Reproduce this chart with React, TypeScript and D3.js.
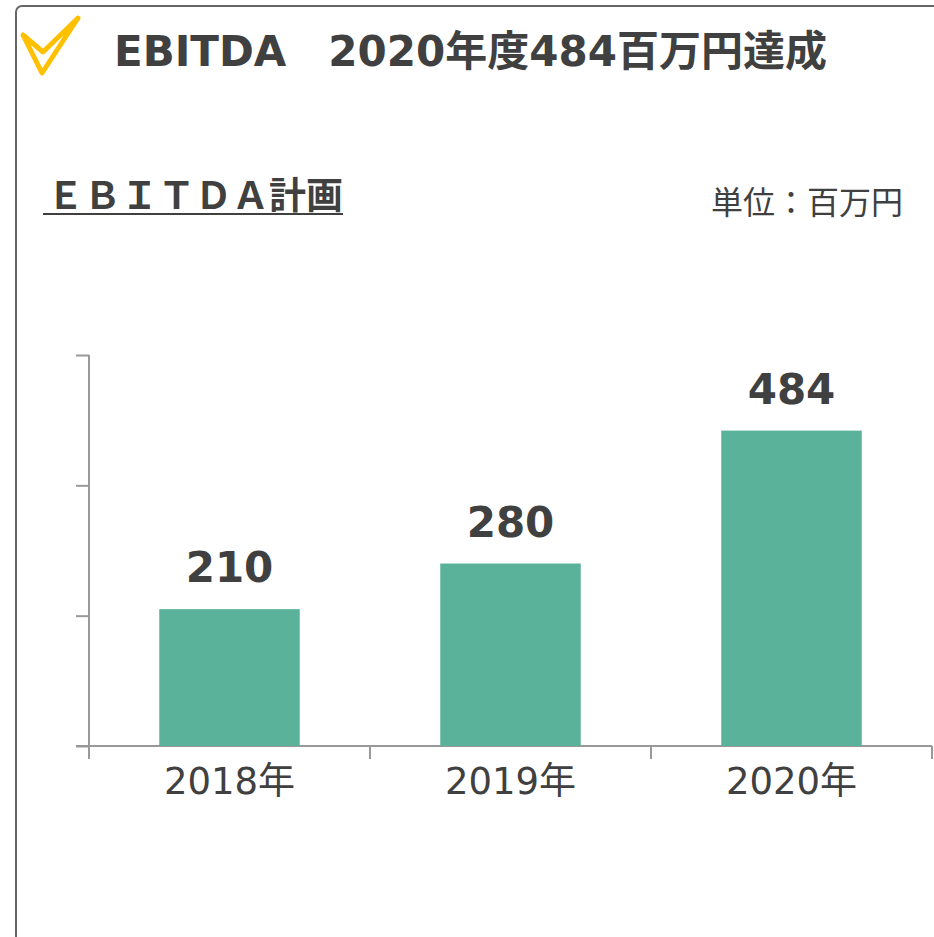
import { useEffect, useRef } from 'react'
import * as d3 from 'd3'

const years = ['2018年', '2019年', '2020年']
const ebitda = [210, 280, 484]
const yTicks = [0, 200, 400, 600]

const title = 'EBITDA　2020年度484百万円達成'
const subtitle = 'ＥＢＩＴＤＡ計画'
const unitLabel = '単位：百万円'

const width = 934
const height = 937
const font = '"DejaVu Sans", Verdana, "Noto Sans CJK JP", sans-serif'
const textColor = '#404040'
const axisColor = '#999'
const barColor = '#5bb29a'

export default function App() {
  const svgRef = useRef<SVGSVGElement>(null)

  useEffect(() => {
    const svg = d3.select(svgRef.current)
    svg.selectAll('*').remove()

    // frame
    svg.append('rect')
      .attr('x', 16).attr('y', 6)
      .attr('width', 960).attr('height', 980)
      .attr('rx', 6)
      .attr('fill', '#fff')
      .attr('stroke', '#666').attr('stroke-width', 2)

    // check mark
    svg.append('path')
      .attr('d', 'M23,35 L42,73 L78,18 L43,52 Z')
      .attr('fill', 'none')
      .attr('stroke', '#ffc000').attr('stroke-width', 5)
      .attr('stroke-linejoin', 'round')

    svg.append('text')
      .attr('x', 114).attr('y', 66)
      .attr('font-family', font).attr('font-weight', 'bold')
      .attr('font-size', 42).attr('fill', textColor)
      .text(title)

    svg.append('text')
      .attr('x', 47).attr('y', 209)
      .attr('font-family', '"Noto Sans CJK JP", sans-serif').attr('font-weight', 'bold')
      .attr('font-size', 37).attr('fill', textColor)
      .text(subtitle)

    svg.append('line')
      .attr('x1', 43).attr('x2', 343)
      .attr('y1', 214).attr('y2', 214)
      .attr('stroke', textColor).attr('stroke-width', 2)

    svg.append('text')
      .attr('x', 903).attr('y', 214)
      .attr('text-anchor', 'end')
      .attr('font-family', '"Noto Sans CJK JP", sans-serif')
      .attr('font-size', 32).attr('fill', textColor)
      .text(unitLabel)

    const x = d3.scaleBand<string>()
      .domain(years)
      .range([89, 932])
      .paddingInner(0.5)
      .paddingOuter(0.25)

    const y = d3.scaleLinear()
      .domain([0, 600])
      .range([746, 355])

    // y axis
    const yAxis = svg.append('g')
      .attr('transform', 'translate(89,0)')
      .call(d3.axisLeft(y).tickValues(yTicks).tickSize(13).tickFormat(() => ''))
    yAxis.select('.domain').remove()
    yAxis.append('line')
      .attr('x1', 0).attr('x2', 0)
      .attr('y1', y(600)).attr('y2', 759)
    yAxis.selectAll('line').attr('stroke', axisColor).attr('stroke-width', 2)

    // x axis
    const edges = years.map(d => (x(d) ?? 0) + x.bandwidth() + x.step() * 0.25)
    const xAxis = svg.append('g')
    xAxis.append('line')
      .attr('x1', 76).attr('x2', 932)
      .attr('y1', y(0)).attr('y2', y(0))
    xAxis.selectAll('.tick')
      .data(edges)
      .join('line')
      .attr('x1', d => d).attr('x2', d => d)
      .attr('y1', y(0)).attr('y2', y(0) + 13)
    xAxis.selectAll('line').attr('stroke', axisColor).attr('stroke-width', 2)

    svg.append('g')
      .selectAll('text')
      .data(years)
      .join('text')
      .attr('x', d => (x(d) ?? 0) + x.bandwidth() / 2)
      .attr('y', 794)
      .attr('text-anchor', 'middle')
      .attr('font-family', font)
      .attr('font-size', 37).attr('fill', textColor)
      .text(d => d)

    // bars
    svg.append('g')
      .selectAll('rect')
      .data(ebitda)
      .join('rect')
      .attr('x', (_, i) => x(years[i]) ?? 0)
      .attr('y', d => y(d))
      .attr('width', x.bandwidth())
      .attr('height', d => y(0) - y(d))
      .attr('fill', barColor)

    svg.append('g')
      .selectAll('text')
      .data(ebitda)
      .join('text')
      .attr('x', (_, i) => (x(years[i]) ?? 0) + x.bandwidth() / 2)
      .attr('y', d => y(d) - 27)
      .attr('text-anchor', 'middle')
      .attr('font-family', font).attr('font-weight', 'bold')
      .attr('font-size', 42).attr('fill', textColor)
      .text(d => d)
  }, [])

  return (
    <svg
      ref={svgRef}
      width={width}
      height={height}
      viewBox={`0 0 ${width} ${height}`}
      style={{ position: 'absolute', left: 0, top: 0, display: 'block' }}
    />
  )
}
